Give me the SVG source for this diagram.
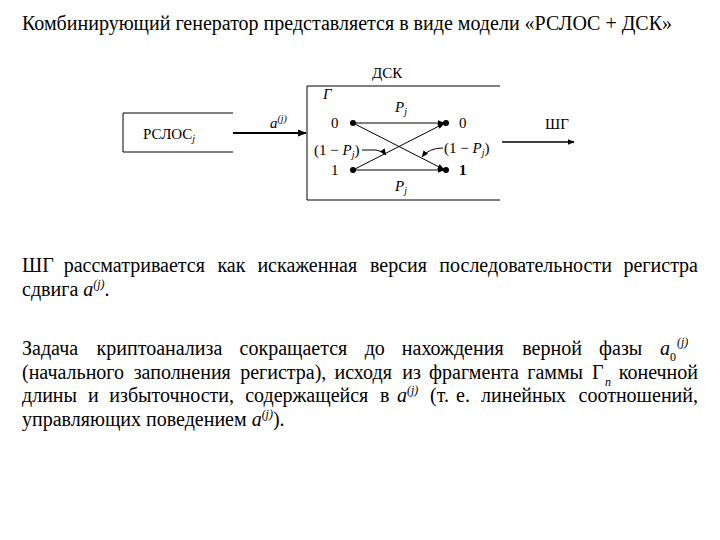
<svg xmlns="http://www.w3.org/2000/svg" width="720" height="540" viewBox="0 0 720 540">
<style>
text{font-family:"Liberation Serif","Times New Roman",Tinos,"DejaVu Serif",serif;fill:#000}
.t{font-size:20px}
.d{font-size:15px}
.i{font-style:italic}
.ln{stroke:#000;stroke-width:1;fill:none}
</style>
<defs>
<marker id="ah" viewBox="0 0 10 10" refX="9" refY="5" markerWidth="7" markerHeight="7" markerUnits="userSpaceOnUse" orient="auto"><path d="M0,1 L10,5 L0,9 Z" fill="#000"/></marker>
<marker id="ahb" viewBox="0 0 10 10" refX="9" refY="5" markerWidth="9" markerHeight="9" markerUnits="userSpaceOnUse" orient="auto"><path d="M0,1 L10,5 L0,9 Z" fill="#000"/></marker>
</defs>
<rect width="720" height="540" fill="#fff"/>

<text class="t" x="22" y="30">Комбинирующий генератор представляется в виде модели «РСЛОС + ДСК»</text>

<g id="rslos">
<path class="ln" d="M233,113 H123 V152 H233"/>
<text class="d" x="143" y="139">РСЛОС<tspan class="i" font-size="10" dy="3">j</tspan></text>
</g>

<g id="dsk">
<path class="ln" d="M500,86 H307 V200 H500"/>
<text class="d" x="372" y="78">ДСК</text>
<text class="d i" x="323" y="99">Γ</text>
<text class="d" x="331" y="128">0</text>
<text class="d" x="331" y="175">1</text>
<text class="d" x="459" y="128">0</text>
<text class="d" x="459" y="175" font-weight="bold">1</text>
<circle cx="353" cy="123" r="3"/>
<circle cx="353" cy="170" r="3"/>
<circle cx="446" cy="123" r="3"/>
<circle cx="446" cy="170" r="3"/>
<text class="d i" x="395" y="112">P<tspan font-size="10" dy="3">j</tspan></text>
<text class="d i" x="395" y="191">P<tspan font-size="10" dy="3">j</tspan></text>
<text class="d" x="314" y="155">(1 − <tspan class="i">P</tspan><tspan class="i" font-size="10" dy="3">j</tspan><tspan dy="-3">)</tspan></text>
<text class="d" x="444" y="153">(1 − <tspan class="i">P</tspan><tspan class="i" font-size="10" dy="3">j</tspan><tspan dy="-3">)</tspan></text>
</g>

<g id="connectors">
<line x1="233" y1="133" x2="306" y2="133" stroke="#000" stroke-width="2" marker-end="url(#ahb)"/>
<line x1="502" y1="142" x2="574" y2="142" stroke="#000" stroke-width="1.3" marker-end="url(#ah)"/>
<line class="ln" x1="353" y1="123" x2="444" y2="123" marker-end="url(#ah)"/>
<line class="ln" x1="353" y1="170" x2="444" y2="170" marker-end="url(#ah)"/>
<line class="ln" x1="353" y1="123" x2="444" y2="169.5" marker-end="url(#ah)"/>
<line class="ln" x1="353" y1="170" x2="444" y2="123.5" marker-end="url(#ah)"/>
<path class="ln" d="M362,150 H376 Q383,151 386,155" marker-end="url(#ah)"/>
<path class="ln" d="M443,148 Q429,148 422,157" marker-end="url(#ah)"/>
</g>

<g id="labels">
<text class="d i" x="270" y="128">a<tspan font-size="10" dy="-6">(j)</tspan></text>
<text class="d" x="545" y="129">ШГ</text>
</g>

<text class="t" y="272"><tspan x="22">ШГ</tspan><tspan x="63.7">рассматривается</tspan><tspan x="217.4">как</tspan><tspan x="257.4">искаженная</tspan><tspan x="370">версия</tspan><tspan x="439.3">последовательности</tspan></text>
<text class="t" x="698" y="272" text-anchor="end">регистра</text>
<text class="t" x="22" y="296">сдвига <tspan class="i">a</tspan><tspan class="i" font-size="12" dy="-8">(j)</tspan><tspan dy="8">.</tspan></text>

<text class="t" y="355"><tspan x="22">Задача</tspan><tspan x="96.6">криптоанализа</tspan><tspan x="239.6">сокращается</tspan><tspan x="364.7">до</tspan><tspan x="401.8">нахождения</tspan><tspan x="522.3">верной</tspan><tspan x="599.1">фазы</tspan></text>
<text class="t" y="355"><tspan x="660" class="i">a</tspan><tspan font-size="12" dy="6">0</tspan><tspan class="i" font-size="12" x="677" dy="-15">(j)</tspan></text>

<text class="t" y="379"><tspan x="22">(начального</tspan><tspan x="133.7">заполнения</tspan><tspan x="240.2">регистра),</tspan><tspan x="334.5">исходя</tspan><tspan x="402.2">из</tspan><tspan x="429.1">фрагмента</tspan><tspan x="527.2">гаммы</tspan></text>
<text class="t" y="379"><tspan x="592">Γ</tspan><tspan class="i" font-size="12" dx="1.5" dy="7">n</tspan></text>
<text class="t" x="698" y="379" text-anchor="end">конечной</text>

<text class="t" y="402"><tspan x="22">длины</tspan><tspan x="87.9">и</tspan><tspan x="109.3">избыточности,</tspan><tspan x="245.2">содержащейся</tspan><tspan x="379.9">в</tspan></text>
<text class="t" y="402"><tspan x="397" class="i">a</tspan><tspan class="i" font-size="12" dy="-8">(j)</tspan></text>
<text class="t" y="402"><tspan x="430">(т.</tspan><tspan x="456">е.</tspan><tspan x="481">линейных</tspan></text>
<text class="t" x="698" y="402" text-anchor="end">соотношений,</text>
<text class="t" x="22" y="426">управляющих поведением <tspan class="i">a</tspan><tspan class="i" font-size="12" dy="-8">(j)</tspan><tspan dy="8">).</tspan></text>
</svg>
